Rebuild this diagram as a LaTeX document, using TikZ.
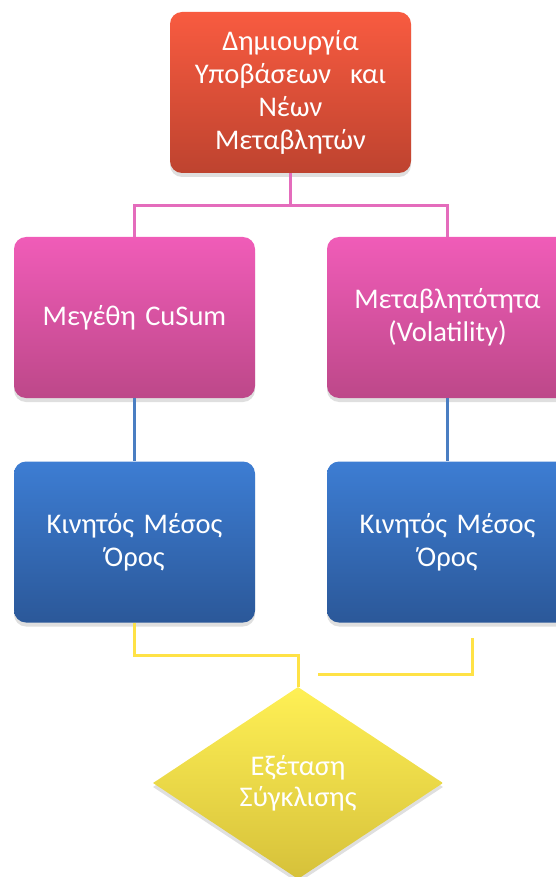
\documentclass[tikz,border=0pt]{standalone}
\usepackage{fontspec}
\setmainfont{Carlito}[WordSpace=0.75]
\usetikzlibrary{shapes.geometric,shadows}

\definecolor{redtop}{HTML}{F85B40}
\definecolor{redbot}{HTML}{BE432F}
\definecolor{pinktop}{HTML}{F05CB8}
\definecolor{pinkbot}{HTML}{BD4889}
\definecolor{bluetop}{HTML}{3D7DD3}
\definecolor{bluebot}{HTML}{2B5899}
\definecolor{yeltop}{HTML}{FFF055}
\definecolor{yelbot}{HTML}{D6C13A}
\definecolor{pinkline}{HTML}{E46CBC}
\definecolor{blueline}{HTML}{4A7EC2}
\definecolor{yelline}{HTML}{FFE246}

\tikzset{
  box/.style={rounded corners=12pt, minimum width=241pt, minimum height=161pt,
    inner sep=4pt, text width=225pt, align=center, text=white,
    font=\fontsize{28.5}{33}\selectfont,
    drop shadow={opacity=0.25, shadow xshift=0pt, shadow yshift=-4pt}},
  redbox/.style={box, top color=redtop, bottom color=redbot},
  pinkbox/.style={box, top color=pinktop, bottom color=pinkbot},
  bluebox/.style={box, top color=bluetop, bottom color=bluebot},
  link/.style={line width=3pt}
}

\begin{document}
\begin{tikzpicture}[x=1pt, y=-1pt]
\useasboundingbox (0,0) rectangle (556,877);

% Top box
\node[redbox] (top) at (290.5,92.5) {Δημιουργία\\Υποβάσεων~~και\\Νέων\\Μεταβλητών};

% Second row
\node[pinkbox] (cusum) at (134.5,317.5) {Μεγέθη CuSum};
\node[pinkbox] (vol) at (447.5,317.5) {Μεταβλητότητα\\(Volatility)};

% Third row
\node[bluebox] (ma1) at (134.5,542) {Κινητός Μέσος\\Όρος};
\node[bluebox] (ma2) at (447.5,542) {Κινητός Μέσος\\Όρος};

% Decision
\node[diamond, aspect=1.51, minimum width=290pt, minimum height=192pt, inner sep=0pt,
  top color=yeltop, bottom color=yelbot, text=white, align=center,
  font=\fontsize{28.5}{31}\selectfont,
  drop shadow={opacity=0.25, shadow xshift=0pt, shadow yshift=-4pt}]
  (check) at (298,783) {Εξέταση\\Σύγκλισης};

% Pink links
\draw[link, pinkline] (top.south) -- ++(0,32) -| (cusum.north);
\draw[link, pinkline] (top.south) ++(0,32) -| (vol.north);

% Blue links
\draw[link, blueline] (cusum.south) -- (ma1.north);
\draw[link, blueline] (vol.south) -- (ma2.north);

% Yellow links
\draw[link, yelline] (ma1.south) -- ++(0,33) -| (check.north);
\coordinate (yend1) at (472,638);
\coordinate (yend2) at (318,674);
\draw[link, yelline] (yend1) |- (yend2);

\end{tikzpicture}
\end{document}
